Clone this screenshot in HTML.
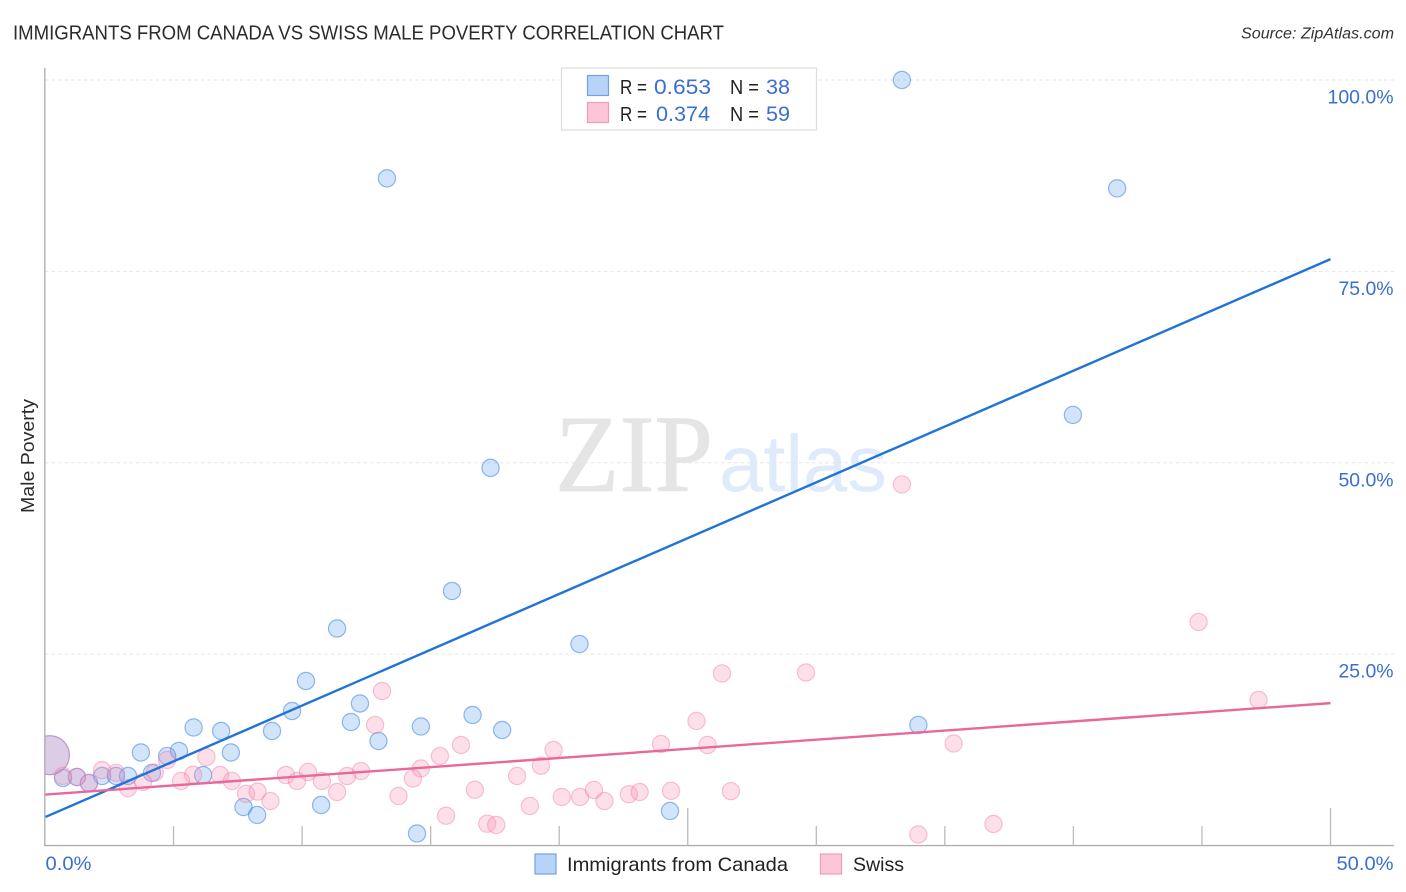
<!DOCTYPE html>
<html lang="en">
<head>
<meta charset="utf-8">
<title>Immigrants from Canada vs Swiss Male Poverty Correlation Chart</title>
<style>
html,body{margin:0;padding:0;background:#fff;width:1406px;height:892px;overflow:hidden}
svg{display:block;position:absolute;left:0;top:0}
text{font-family:"Liberation Sans",sans-serif}
</style>
</head>
<body>
<svg id="chart" width="1406" height="892" viewBox="0 0 1406 892" xmlns="http://www.w3.org/2000/svg">
  <defs>
    <clipPath id="plot-clip"><rect x="45" y="60" width="1349" height="786"></rect></clipPath>
  </defs>
  <rect x="0" y="0" width="1406" height="892" fill="#ffffff"></rect>
  <text x="13" y="39.5" font-size="20" fill="#2b2b2b" textLength="711" lengthAdjust="spacingAndGlyphs">IMMIGRANTS FROM CANADA VS SWISS MALE POVERTY CORRELATION CHART</text>
  <text x="1241" y="38.5" font-size="15.5" font-style="italic" fill="#333333" textLength="153" lengthAdjust="spacingAndGlyphs">Source: ZipAtlas.com</text>
  <g>
    <text x="555" y="491" font-size="110" fill="#e5e5e5" stroke="#e5e5e5" stroke-width="0.8" textLength="158" lengthAdjust="spacingAndGlyphs" style="font-family:'Liberation Serif',serif">ZIP</text>
    <text x="719" y="491" font-size="80" fill="#dfeafa" textLength="168" lengthAdjust="spacingAndGlyphs">atlas</text>
  </g>
  <g id="grid"></g>
  <g id="axes"></g>
  <g id="labels"></g>
  <g id="points" clip-path="url(#plot-clip)"></g>
  <g id="trends"></g>
  <text transform="translate(34 513) rotate(-90)" font-size="18.5" fill="#2b2b2b" textLength="114" lengthAdjust="spacingAndGlyphs">Male Poverty</text>
  <g>
    <rect x="561.5" y="68" width="255" height="62" fill="#ffffff" stroke="#dddddd" stroke-width="1.2"></rect>
    <rect x="587.5" y="75.5" width="21" height="20" fill="#b8d3f7" stroke="#6fa3e3" stroke-width="1.2"></rect>
    <text x="620" y="94" font-size="20" fill="#222222" textLength="27" lengthAdjust="spacingAndGlyphs">R =</text>
    <text x="654" y="94" font-size="21" fill="#3a6fd0" textLength="57" lengthAdjust="spacingAndGlyphs">0.653</text>
    <text x="730" y="94" font-size="20" fill="#222222" textLength="29" lengthAdjust="spacingAndGlyphs">N =</text>
    <text x="766" y="94" font-size="21" fill="#3a6fd0" textLength="24" lengthAdjust="spacingAndGlyphs">38</text>
    <rect x="587.5" y="102.5" width="21" height="20" fill="#fdc6d8" stroke="#f29ab8" stroke-width="1.2"></rect>
    <text x="620" y="121" font-size="20" fill="#222222" textLength="27" lengthAdjust="spacingAndGlyphs">R =</text>
    <text x="656" y="121" font-size="21" fill="#3a6fd0" textLength="54" lengthAdjust="spacingAndGlyphs">0.374</text>
    <text x="730" y="121" font-size="20" fill="#222222" textLength="29" lengthAdjust="spacingAndGlyphs">N =</text>
    <text x="766" y="121" font-size="21" fill="#3a6fd0" textLength="24" lengthAdjust="spacingAndGlyphs">59</text>
  </g>
  <g>
    <rect x="535" y="854" width="21" height="20" fill="#b8d3f7" stroke="#6fa3e3" stroke-width="1.2"></rect>
    <text x="567" y="871" font-size="19.5" fill="#222222" textLength="221" lengthAdjust="spacingAndGlyphs">Immigrants from Canada</text>
    <rect x="820.5" y="854" width="21" height="20" fill="#fdc6d8" stroke="#f29ab8" stroke-width="1.2"></rect>
    <text x="853" y="871" font-size="19.5" fill="#222222" textLength="51" lengthAdjust="spacingAndGlyphs">Swiss</text>
  </g>
</svg>
<script>
const yTickValues = [100, 75, 50, 25];
const yTickLabels = ["100.0%", "75.0%", "50.0%", "25.0%"];
const xTickValues = [5, 10, 15, 20, 25, 30, 35, 40, 45, 50];
const xMajorTicks = [25, 50];
const xEndValues = [0, 50];
const xEndLabels = ["0.0%", "50.0%"];

const canadaX = [33.33,13.3,41.7,39.98,17.33,15.83,11.36,20.79,10.15,12.25,9.61,16.63,11.9,5.78,14.62,33.97,6.85,8.83,17.78,12.97,3.73,7.23,5.21,4.75,0.19,4.16,6.15,0.7,1.24,1.71,2.22,2.76,3.23,7.72,8.25,10.74,24.31,14.47];
const canadaY = [100,87.15,85.85,56.25,49.33,33.25,28.35,26.33,21.49,18.55,17.57,17.05,16.14,15.42,15.55,15.75,14.96,14.96,15.09,13.65,12.15,12.15,12.35,11.69,11.8,9.47,9.2,8.82,8.95,8.17,9.08,9.08,9.08,5.03,3.99,5.29,4.51,1.57];
const swissX = [33.33,44.87,47.2,26.33,29.6,13.11,25.34,35.34,12.84,23.96,25.77,16.18,19.78,15.36,6.28,4.75,19.29,14.62,12.29,10.23,11.75,9.37,18.36,14.31,10.77,9.8,6.81,7.27,5.76,5.29,4.27,3.81,3.23,2.76,2.22,1.24,0.7,1.71,0.19,7.82,8.27,8.77,11.36,13.75,16.72,15.6,17.2,17.55,18.86,20.1,20.81,21.35,21.76,22.71,23.13,24.35,26.68,33.97,36.89];
const swissY = [47.17,29.2,19.01,22.48,22.6,20.19,16.27,13.33,15.75,13.26,13.13,13.13,12.48,11.69,11.56,11.17,10.42,10.06,9.73,9.6,9.08,9.21,9.08,8.75,8.43,8.43,9.21,8.43,9.25,8.43,9.53,8.3,7.5,9.5,9.85,8.95,9.1,8.17,11.8,6.75,7.04,5.81,6.99,6.47,7.29,3.89,2.85,2.68,5.16,6.34,6.34,7.25,5.81,6.7,6.99,7.14,7.1,1.44,2.81];
const largeCanadaPoint = 24;
const largeSwissPoint = 38;

const canadaTrendX = [0.02, 50];
const canadaTrendY = [3.73, 76.6];
const swissTrendX = [0.02, 50];
const swissTrendY = [6.66, 18.6];

const NS = "http://www.w3.org/2000/svg";
function xScale(v){ return 45 + v * 25.71; }
function yScale(v){ return 845.5 - v * 7.655; }
function make(tag, attrs, parent){
  const el = document.createElementNS(NS, tag);
  for (const k in attrs) el.setAttribute(k, attrs[k]);
  parent.appendChild(el);
  return el;
}
const gridG = document.getElementById("grid");
const axesG = document.getElementById("axes");
const labelsG = document.getElementById("labels");
const pointsG = document.getElementById("points");
const trendsG = document.getElementById("trends");

yTickValues.forEach(function(v){
  const line = make("line", {x1:45, x2:1394, y1:yScale(v), y2:yScale(v), stroke:"#e6e6e6", "stroke-width":1, "stroke-dasharray":"3.5 3"}, gridG);
  
  
});

const yAxis = make("line", {x1:44.8, x2:44.8, y1:68, y2:846, stroke:"#b0b0b0", "stroke-width":1.4}, axesG);


const xAxis = make("line", {x1:44, x2:1394, y1:845.6, y2:845.6, stroke:"#b0b0b0", "stroke-width":1.4}, axesG);



xTickValues.forEach(function(v){
  const major = xMajorTicks.indexOf(v) >= 0;
  const tick = make("line", {x1:xScale(v), x2:xScale(v), y1:major ? 808 : 826, y2:845.5, stroke:"#bbbbbb", "stroke-width":1.3}, axesG);
  
  
});

yTickValues.forEach(function(v, i){
  const t = make("text", {x:1393.5, y:yScale(v) + 23.5, "text-anchor":"end", "font-size":19.5, fill:"#3a6fd0", textLength:i === 0 ? 66 : 55, lengthAdjust:"spacingAndGlyphs"}, labelsG);
  
  
  t.textContent = yTickLabels[i];
});

xEndValues.forEach(function(v, i){
  const t = make("text", {x:i === 0 ? xScale(v) + 0.5 : 1393.5, y:870, "text-anchor":i === 0 ? "start" : "end", "font-size":19.5, fill:"#3a6fd0", textLength:i === 0 ? 46 : 57, lengthAdjust:"spacingAndGlyphs"}, labelsG);
  
  
  t.textContent = xEndLabels[i];
});

canadaX.forEach(function(v, i){
  const c = make("circle", {cx:xScale(v), cy:yScale(canadaY[i]), r:i === largeCanadaPoint ? 19.5 : 8.6, fill:"rgba(105,165,238,0.3)", stroke:"rgba(60,130,225,0.55)", "stroke-width":1.2}, pointsG);
  
  
});
swissX.forEach(function(v, i){
  const c = make("circle", {cx:xScale(v), cy:yScale(swissY[i]), r:i === largeSwissPoint ? 19.5 : 8.6, fill:"rgba(250,150,185,0.3)", stroke:"rgba(235,120,160,0.42)", "stroke-width":1.2}, pointsG);
  
  
});

const canadaLine = make("line", {x1:xScale(canadaTrendX[0]), y1:yScale(canadaTrendY[0]), x2:xScale(canadaTrendX[1]), y2:yScale(canadaTrendY[1]), stroke:"#2273d8", "stroke-width":2.4}, trendsG);


const swissLine = make("line", {x1:xScale(swissTrendX[0]), y1:yScale(swissTrendY[0]), x2:xScale(swissTrendX[1]), y2:yScale(swissTrendY[1]), stroke:"#e9689a", "stroke-width":2.4}, trendsG);


</script>
</body>
</html>
